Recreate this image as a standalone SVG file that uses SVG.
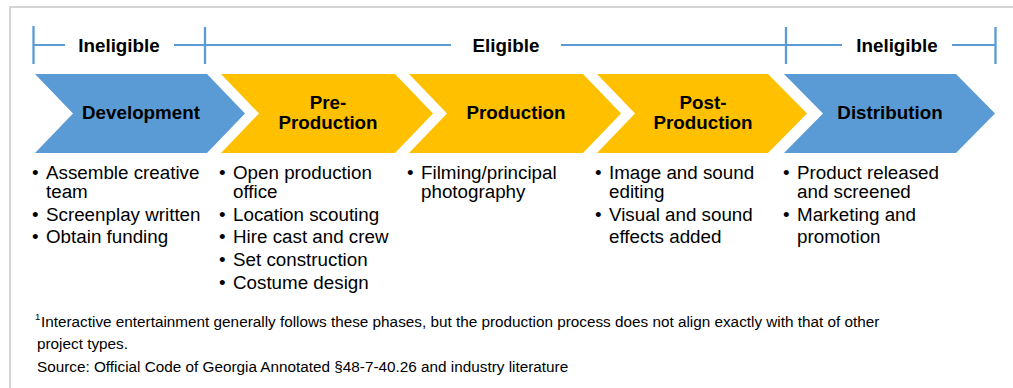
<svg xmlns="http://www.w3.org/2000/svg" width="1013" height="388" viewBox="0 0 1013 388">
<style>
.frame{fill:none;stroke:#c8c8c8;stroke-width:1.5}
.br{stroke:#5b9bd5;stroke-width:2;fill:none}
.tk{stroke:#5b9bd5;stroke-width:2.3;fill:none}
.blue{fill:#5b9bd5}
.yel{fill:#ffc000}
.hd{font-family:"Liberation Sans",Arial,sans-serif;font-weight:bold;font-size:18.8px;fill:#000;text-anchor:middle}
.bl{font-family:"Liberation Sans",Arial,sans-serif;font-size:18.8px;fill:#000}
.fn{font-family:"Liberation Sans",Arial,sans-serif;font-size:15.3px;fill:#000}
.sup{font-family:"Liberation Sans",Arial,sans-serif;font-size:9.5px;fill:#000}
</style>
<rect width="1013" height="388" fill="#fff"/>
<path class="frame" d="M10,390 V7 H1015"/>
<g id="brackets">
<line class="br" x1="33" y1="45" x2="65" y2="45"/>
<line class="br" x1="174" y1="45" x2="451" y2="45"/>
<line class="br" x1="561" y1="45" x2="842" y2="45"/>
<line class="br" x1="952" y1="45" x2="995" y2="45"/>
<line class="tk" x1="33.5" y1="26" x2="33.5" y2="64"/>
<line class="tk" x1="205" y1="27" x2="205" y2="64"/>
<line class="tk" x1="786" y1="27" x2="786" y2="64"/>
<line class="tk" x1="995.5" y1="27" x2="995.5" y2="64"/>
<text class="hd" x="119" y="52">Ineligible</text>
<text class="hd" x="506" y="52">Eligible</text>
<text class="hd" x="897" y="52">Ineligible</text>
</g>
<g id="development">
<polygon class="blue" points="35,74 207,74 245,113.5 207,153 35,153 73,113.5"/>
<text class="hd" x="141" y="119">Development</text>
<text class="bl"><tspan x="32" y="179">•</tspan><tspan x="46" y="179">Assemble creative</tspan><tspan x="46" y="198">team</tspan><tspan x="32" y="221">•</tspan><tspan x="46" y="221">Screenplay written</tspan><tspan x="32" y="243">•</tspan><tspan x="46" y="243">Obtain funding</tspan></text>
</g>
<g id="pre-production">
<polygon class="yel" points="221,74 395,74 433,113.5 395,153 221,153 259,113.5"/>
<text class="hd" x="328" y="109">Pre-</text>
<text class="hd" x="328" y="129">Production</text>
<text class="bl"><tspan x="219" y="179">•</tspan><tspan x="233" y="179">Open production</tspan><tspan x="233" y="198">office</tspan><tspan x="219" y="221">•</tspan><tspan x="233" y="221">Location scouting</tspan><tspan x="219" y="243">•</tspan><tspan x="233" y="243">Hire cast and crew</tspan><tspan x="219" y="266">•</tspan><tspan x="233" y="266">Set construction</tspan><tspan x="219" y="289">•</tspan><tspan x="233" y="289">Costume design</tspan></text>
</g>
<g id="production">
<polygon class="yel" points="409,74 583,74 621,113.5 583,153 409,153 447,113.5"/>
<text class="hd" x="516" y="119">Production</text>
<text class="bl"><tspan x="407" y="179">•</tspan><tspan x="421" y="179">Filming/principal</tspan><tspan x="421" y="198">photography</tspan></text>
</g>
<g id="post-production">
<polygon class="yel" points="597,74 768,74 807,113.5 768,153 597,153 635,113.5"/>
<text class="hd" x="703" y="109">Post-</text>
<text class="hd" x="703" y="129">Production</text>
<text class="bl"><tspan x="595" y="179">•</tspan><tspan x="609" y="179">Image and sound</tspan><tspan x="609" y="198">editing</tspan><tspan x="595" y="221">•</tspan><tspan x="609" y="221">Visual and sound</tspan><tspan x="609" y="243">effects added</tspan></text>
</g>
<g id="distribution">
<polygon class="blue" points="784,74 956,74 995,113.5 956,153 784,153 823,113.5"/>
<text class="hd" x="890" y="119">Distribution</text>
<text class="bl"><tspan x="783" y="179">•</tspan><tspan x="797" y="179">Product released</tspan><tspan x="797" y="198">and screened</tspan><tspan x="783" y="221">•</tspan><tspan x="797" y="221">Marketing and</tspan><tspan x="797" y="243">promotion</tspan></text>
</g>
<g id="connectors"></g>
<g id="notes">
<text class="sup" x="35" y="320">1</text>
<text class="fn" x="41" y="327">Interactive entertainment generally follows these phases, but the production process does not align exactly with that of other</text>
<text class="fn" x="37" y="349">project types.</text>
<text class="fn" x="37" y="372">Source: Official Code of Georgia Annotated §48-7-40.26 and industry literature</text>
</g>
</svg>
